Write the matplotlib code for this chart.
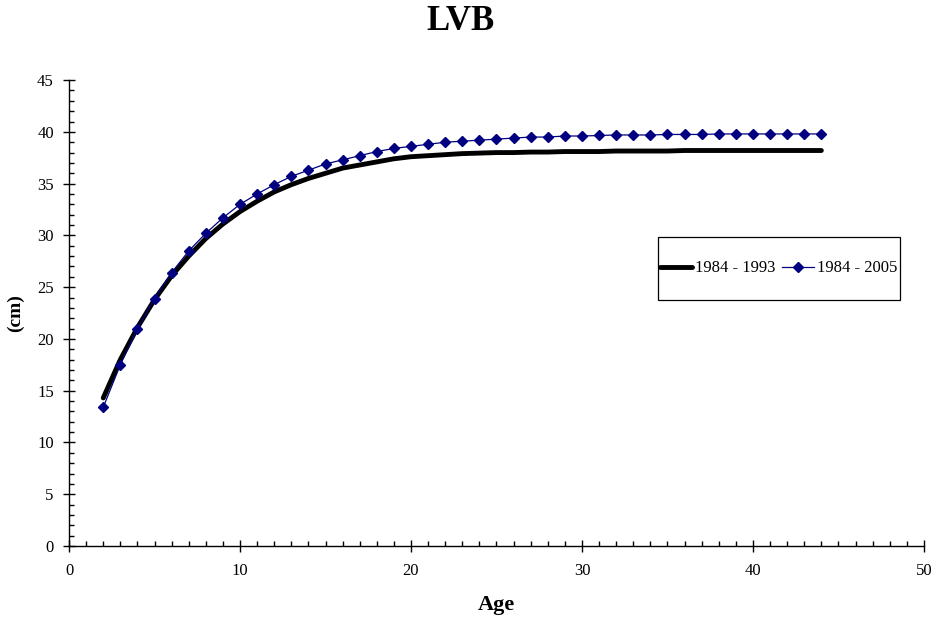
import matplotlib
matplotlib.use("Agg")
import matplotlib.pyplot as plt
from matplotlib.ticker import MultipleLocator
from matplotlib.patches import Rectangle

plt.rcParams['font.family'] = ['Liberation Serif', 'DejaVu Serif']

ages = list(range(2, 45))
lvb_1984_1993 = [14.3, 18.0, 21.1, 23.8, 26.1, 28.0, 29.7, 31.1, 32.3, 33.3,
                 34.2, 34.9, 35.5, 36.0, 36.5, 36.8, 37.1, 37.4, 37.6, 37.7,
                 37.8, 37.9, 37.95, 38.0, 38.0, 38.05, 38.05, 38.1, 38.1, 38.1,
                 38.15, 38.15, 38.15, 38.15, 38.2, 38.2, 38.2, 38.2, 38.2, 38.2,
                 38.2, 38.2, 38.2]
lvb_1984_2005 = [13.4, 17.5, 21.0, 23.9, 26.4, 28.5, 30.2, 31.7, 33.0, 34.0,
                 34.9, 35.7, 36.3, 36.9, 37.3, 37.7, 38.1, 38.4, 38.6, 38.8,
                 39.0, 39.1, 39.2, 39.3, 39.4, 39.5, 39.5, 39.6, 39.6, 39.65,
                 39.7, 39.7, 39.7, 39.75, 39.75, 39.75, 39.8, 39.8, 39.8, 39.8,
                 39.8, 39.8, 39.8]

fig = plt.figure(figsize=(9.38, 6.21), dpi=100)
ax = fig.add_axes([0.0736, 0.1208, 0.9114, 0.7502])

ax.plot(ages, lvb_1984_1993, color='black', lw=3.5, label='1984 - 1993', zorder=2,
        solid_capstyle='round')
ax.plot(ages, lvb_1984_2005, color='#000080', lw=0.9, marker='D', markersize=5,
        markeredgecolor='#000080', markerfacecolor='#000080', label='1984 - 2005', zorder=3)

ax.set_xlim(0, 50)
ax.set_ylim(0, 45)
ax.xaxis.set_major_locator(MultipleLocator(10))
ax.xaxis.set_minor_locator(MultipleLocator(1))
ax.yaxis.set_major_locator(MultipleLocator(5))
ax.yaxis.set_minor_locator(MultipleLocator(1))

for s in ['top', 'right']:
    ax.spines[s].set_visible(False)
for s in ['left', 'bottom']:
    ax.spines[s].set_linewidth(1.0)

ax.tick_params(axis='both', which='major', direction='inout', length=8, width=1, labelsize=12)
ax.tick_params(axis='both', which='minor', direction='in', length=3.5, width=1)
ax.tick_params(axis='x', which='major', pad=8)
ax.tick_params(axis='y', which='major', pad=7)

ax.set_xlabel('Age', fontsize=16, fontweight='bold', labelpad=12)
ax.set_ylabel('(cm)', fontsize=14, fontweight='bold', labelpad=9)
fig.text(460 / 938, 1 - 22 / 621, 'LVB', ha='center', va='center', fontsize=25, fontweight='bold')

frame = Rectangle((658 / 938, 1 - 300 / 621), 242 / 938, 63 / 621,
                  transform=fig.transFigure, facecolor='white',
                  edgecolor='black', linewidth=0.9, zorder=5, clip_on=False)
ax.add_patch(frame)
leg = ax.legend(loc='center', bbox_to_anchor=(779 / 938, 1 - 268.5 / 621),
                bbox_transform=fig.transFigure, ncol=2, fontsize=12,
                frameon=False, borderpad=0, handlelength=1.9, handletextpad=0.2,
                columnspacing=0.4, borderaxespad=0)
leg.set_zorder(6)

fig.savefig('out.png', dpi=100)
